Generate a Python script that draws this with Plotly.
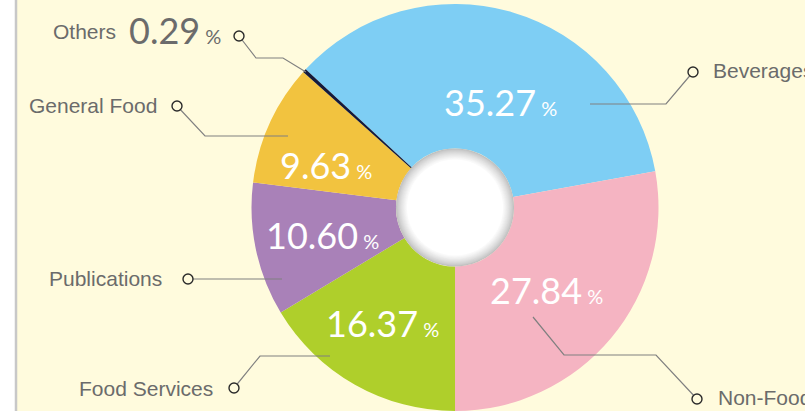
import math
import plotly.graph_objects as go

# ---------------- data ----------------
categories = ["Beverages", "Non-Food", "Food Services", "Publications", "General Food", "Others"]
shares = [35.27, 27.84, 16.37, 10.60, 9.63, 0.29]

# ---------------- style / layout constants ----------------
colors = ["#7ECEF4", "#F5B4C2", "#AFCF2B", "#A981B8", "#F2C33F", "#141A3C"]
W, H = 805, 411
BG = "#FFFBDD"
LABEL_GRAY = "#6b6b6b"
LINE_GRAY = "#808080"
CX, CY, R = 455, 207.5, 203.5      # pie centre / radius in pixels (y from top)
START = 312.8                      # first slice start, degrees clockwise from 12 o'clock
HOLE = 0.29

NUM_FONT = "Lato"
LBL_FONT = "Liberation Sans, Arial, sans-serif"

# label placement: (x, y, xanchor)
name_pos = {
    "Beverages": (711, 70, "left"),
    "Non-Food": (716, 397, "left"),
    "Food Services": (215, 388, "right"),
    "Publications": (164, 278, "right"),
    "General Food": (159, 105, "right"),
    "Others": (118, 31, "right"),
}
pct_pos = {
    "Beverages": (500, 102),
    "Non-Food": (546, 290),
    "Food Services": (382, 323),
    "Publications": (322, 235),
    "General Food": (326, 165),
    "Others": (175, 30),
}
# leader lines: first vertex = dot centre
leaders = {
    "Beverages": [(693, 72), (666, 104), (590, 104)],
    "Non-Food": [(697, 399), (656, 355), (564, 355), (533, 317)],
    "Food Services": [(234, 388), (260, 356), (330, 356)],
    "Publications": [(188, 279), (282, 279)],
    "General Food": [(177, 106), (205, 136), (288, 136)],
    "Others": [(239, 36), (256, 58), (283, 58)],
}

# leader for the tiny "Others" slice ends on the slice edge (from the pie geometry)
cum = 0.0
mid_angle = {}
total = sum(shares)
for c, v in zip(categories, shares):
    mid_angle[c] = START + 360.0 * (cum + v / 2) / total
    cum += v
a = math.radians(mid_angle["Others"])
leaders["Others"].append((CX + R * 0.99 * math.sin(a), CY - R * 0.99 * math.cos(a)))

fig = go.Figure()
# invisible trace to create the pixel-mapped cartesian overlay
fig.add_trace(go.Scatter(x=[None], y=[None], showlegend=False, hoverinfo="skip"))
fig.add_trace(go.Pie(
    labels=categories, values=shares, sort=False, direction="clockwise",
    rotation=START, hole=HOLE,
    marker=dict(colors=colors, line=dict(width=0)),
    textinfo="none", showlegend=False, hoverinfo="label+percent",
    domain=dict(x=[(CX - R) / W, (CX + R) / W], y=[(H - CY - R) / H, (H - CY + R) / H]),
))

shapes = []
# left white strip + grey border
shapes.append(dict(type="rect", xref="x", yref="y", x0=0, x1=15, y0=0, y1=H,
                   fillcolor="white", line=dict(width=0), layer="above"))
shapes.append(dict(type="line", xref="x", yref="y", x0=16, x1=16, y0=0, y1=H,
                   line=dict(color="#c8c8c8", width=2.5), layer="above"))

# hole with soft inner shadow
hr = HOLE * R
n = 12
for i in range(n):
    r = hr - i
    t = (i / (n - 1)) ** 0.8
    g = int(round(192 + (255 - 192) * t))
    col = f"rgb({g},{g},{g})"
    shapes.append(dict(type="circle", xref="x", yref="y",
                       x0=CX - r, x1=CX + r, y0=CY - r, y1=CY + r,
                       fillcolor=col, line=dict(width=0), layer="above"))

# leader lines
for c in categories:
    pts = leaders[c]
    path = "M " + " L ".join(f"{x:.1f},{y:.1f}" for x, y in pts)
    shapes.append(dict(type="path", xref="x", yref="y", path=path,
                       line=dict(color=LINE_GRAY, width=1.2), layer="above"))
# dots
for c in categories:
    x, y = leaders[c][0]
    rd = 5
    shapes.append(dict(type="circle", xref="x", yref="y",
                       x0=x - rd, x1=x + rd, y0=y - rd, y1=y + rd,
                       fillcolor=BG, line=dict(color="#2a2a2a", width=1.4), layer="above"))

annotations = []
for c, v in zip(categories, shares):
    x, y, xa = name_pos[c]
    annotations.append(dict(x=x, y=y, xref="x", yref="y", text=c, showarrow=False,
                            xanchor=xa, yanchor="middle",
                            font=dict(family=LBL_FONT, size=21, color=LABEL_GRAY)))
    px, py = pct_pos[c]
    col = LABEL_GRAY if c == "Others" else "white"
    annotations.append(dict(x=px, y=py, xref="x", yref="y",
                            text=f"{v:.2f}<span style='font-size:20px'> %</span>",
                            showarrow=False, xanchor="center", yanchor="middle",
                            font=dict(family=NUM_FONT, size=36, color=col)))

fig.update_layout(
    width=W, height=H,
    margin=dict(l=0, r=0, t=0, b=0),
    paper_bgcolor=BG, plot_bgcolor="rgba(0,0,0,0)",
    xaxis=dict(range=[0, W], visible=False, fixedrange=True, domain=[0, 1]),
    yaxis=dict(range=[H, 0], visible=False, fixedrange=True, domain=[0, 1]),
    shapes=shapes, annotations=annotations, showlegend=False,
)

fig.write_html(
    "out.html",
    config={"displayModeBar": False},
    post_script="document.body.style.margin='0';document.body.style.overflow='hidden';",
)
